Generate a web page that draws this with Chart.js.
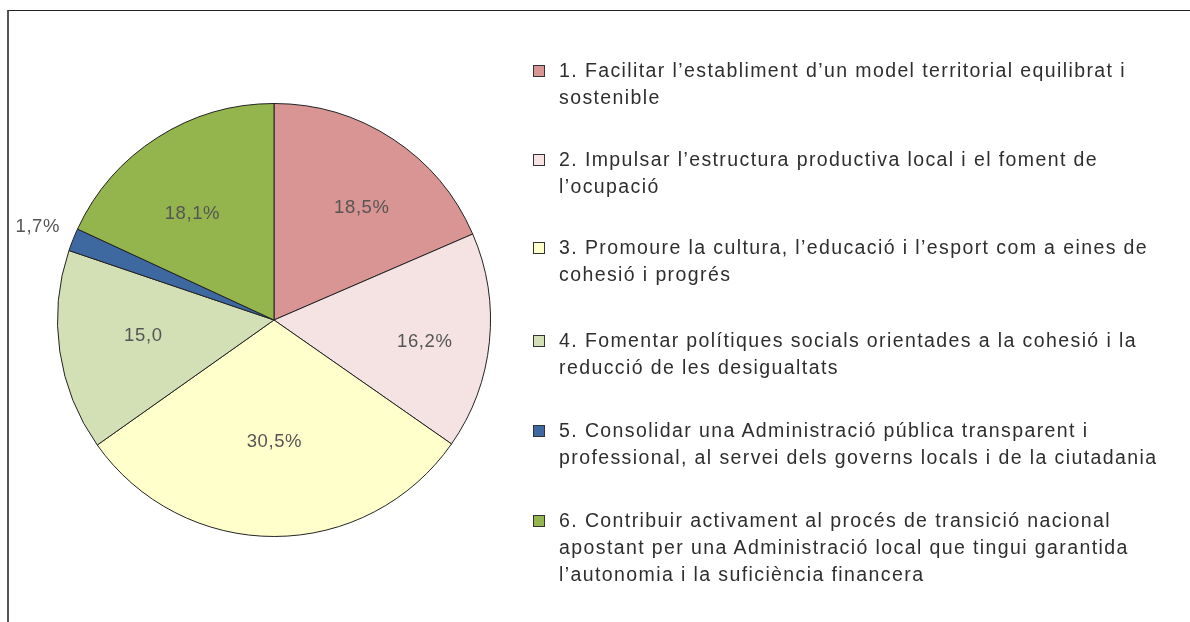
<!DOCTYPE html>
<html>
<head>
<meta charset="utf-8">
<script src="https://cdn.jsdelivr.net/npm/chart.js@4.4.1/dist/chart.umd.min.js"></script>
<style>
  html, body { margin: 0; padding: 0; background: #fff; }
  body { width: 1190px; height: 622px; position: relative; overflow: hidden;
         font-family: "Liberation Sans", Arial, sans-serif; }
  #frame { position: absolute; left: 7px; top: 10px; width: 1200px; height: 700px;
           border-left: 2px solid #555; border-top: 1.5px solid #222; }
  #wrap { position: absolute; left: 0; top: 0; width: 1190px; height: 622px; }
  #legend { position: absolute; left: 533px; top: 57px; width: 650px; }
  .item { position: relative; padding-left: 26px;
          font-size: 19.5px; line-height: 27px; letter-spacing: 1.4px; color: #2e2e2e; white-space: nowrap; }
  .box { position: absolute; left: 0; top: 8px; width: 10px; height: 10px;
         border: 1px solid #333; }
</style>
</head>
<body>
<div id="frame"></div>
<div id="wrap"><canvas id="pie"></canvas></div>
<div id="legend"></div>
<script>
// Data
var categories = [
    ["1. Facilitar l\u2019establiment d\u2019un model territorial equilibrat i", "sostenible"],
    ["2. Impulsar l\u2019estructura productiva local i el foment de", "l\u2019ocupació"],
    ["3. Promoure la cultura, l\u2019educació i l\u2019esport com a eines de", "cohesió i progrés"],
    ["4. Fomentar polítiques socials orientades a la cohesió i la", "reducció de les desigualtats"],
    ["5. Consolidar una Administració pública transparent i", "professional, al servei dels governs locals i de la ciutadania"],
    ["6. Contribuir activament al procés de transició nacional", "apostant per una Administració local que tingui garantida", "l\u2019autonomia i la suficiència financera"]
];
var values = [18.5, 16.2, 30.5, 15.0, 1.7, 18.1];
var valueLabels = ["18,5%", "16,2%", "30,5%", "15,0", "1,7%", "18,1%"];
var colors = ["#d99593", "#f5e3e3", "#ffffcc", "#d3e0b6", "#3d68a0", "#94b54e"];

// label placement: share of the radius, plus a small nudge in px
var labelRadius = [0.68, 0.70, 0.56, 0.61, 1.175, 0.64];
var labelNudge = [[7, 11], [0, 7], [0, 1], [0, -3], [0, 1], [-7, 11]];
// gap under each legend item
var legendGaps = [35, 34, 39, 36, 36, 0];

// Build HTML legend
var legend = document.getElementById('legend');
categories.forEach(function (lines, i) {
    var div = document.createElement('div');
    div.className = 'item';
    div.style.marginBottom = legendGaps[i] + 'px';
    var box = document.createElement('span');
    box.className = 'box';
    box.style.background = colors[i];
    div.appendChild(box);
    lines.forEach(function (line, j) {
        if (j > 0) div.appendChild(document.createElement('br'));
        div.appendChild(document.createTextNode(line));
    });
    legend.appendChild(div);
});

// Draw labels on the slices
var sliceLabels = {
    id: 'sliceLabels',
    afterDatasetsDraw: function (chart) {
        var ctx = chart.ctx;
        var arcs = chart.getDatasetMeta(0).data;
        ctx.save();
        ctx.font = '18.5px "Liberation Sans", Arial, sans-serif';
        ctx.letterSpacing = '0.6px';
        ctx.fillStyle = '#555';
        ctx.textAlign = 'center';
        ctx.textBaseline = 'middle';
        arcs.forEach(function (arc, i) {
            var mid = (arc.startAngle + arc.endAngle) / 2;
            var r = arc.outerRadius * labelRadius[i];
            ctx.fillText(valueLabels[i],
                arc.x + Math.cos(mid) * r + labelNudge[i][0],
                arc.y + Math.sin(mid) * r + labelNudge[i][1]);
        });
        ctx.restore();
    }
};

var ctx = document.getElementById('pie').getContext('2d');
var pieChart = new Chart(ctx, {
    type: 'pie',
    data: {
        labels: categories.map(function (c) { return c.join(' '); }),
        datasets: [{
            data: values,
            backgroundColor: colors,
            borderColor: '#222',
            borderWidth: 1
        }]
    },
    options: {
        responsive: true,
        maintainAspectRatio: false,
        animation: false,
        layout: { padding: { left: 57, top: 103, right: 699, bottom: 85 } },
        plugins: {
            legend: { display: false },
            tooltip: { enabled: false }
        }
    },
    plugins: [sliceLabels]
});
</script>
</body>
</html>
